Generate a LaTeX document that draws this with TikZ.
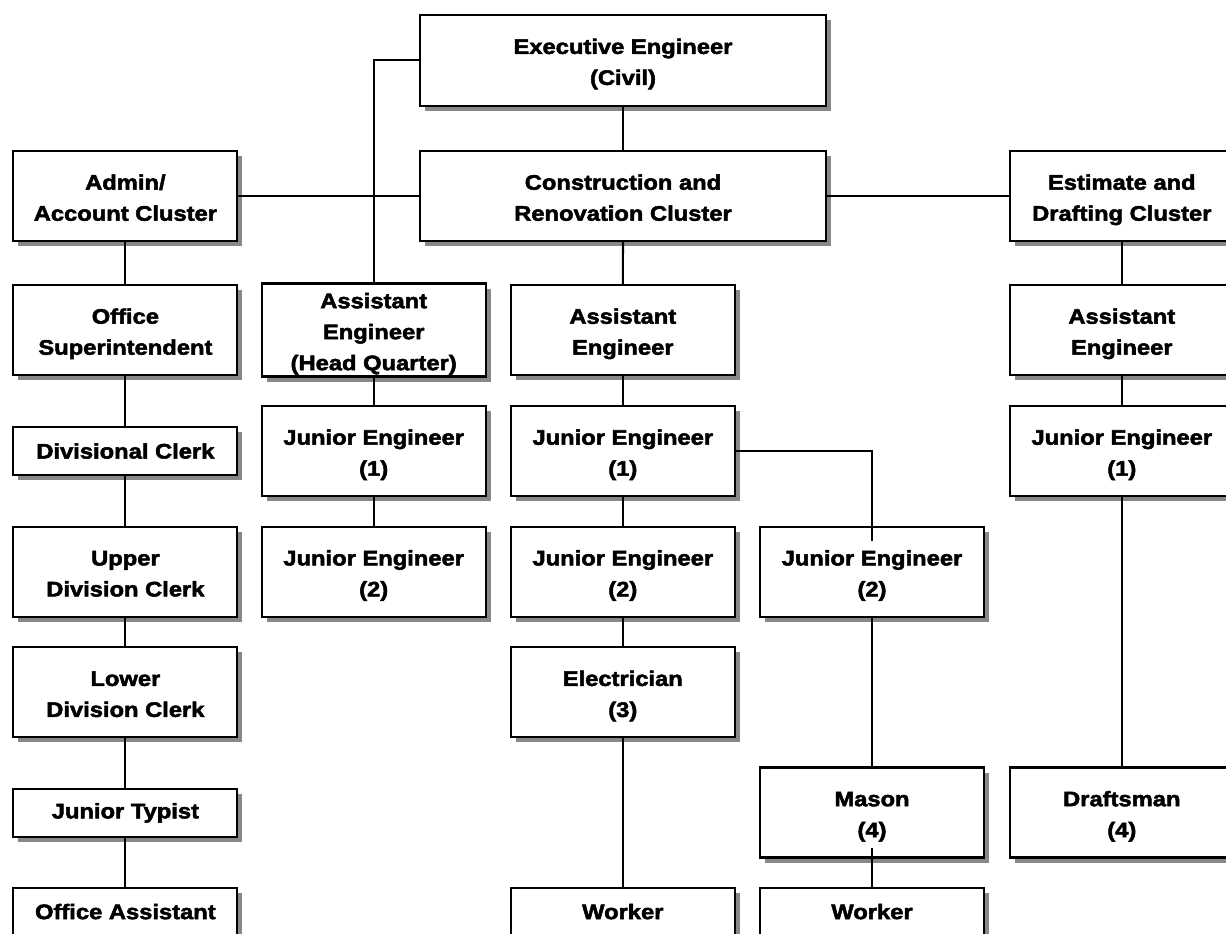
\documentclass[tikz,border=0pt]{standalone}
\usepackage{fontspec}
\newfontfamily\boxfont{Liberation Sans}[FakeStretch=1.13, FakeBold=2.4]
\usetikzlibrary{shadows,calc}
\definecolor{shadowgray}{RGB}{136,136,136}
\newcommand\mylines[1]{\raisebox{-3pt}[\height][\depth]{\begin{tabular}{@{}c@{}}#1\end{tabular}}}
\tikzset{
  box/.style={draw=black, line width=2.1pt, fill=white, minimum width=224pt,
    minimum height=#1, inner sep=0pt, align=center,
    font=\boxfont\bfseries\fontsize{21}{31}\selectfont,
    drop shadow={shadow xshift=5pt, shadow yshift=-5pt, fill=shadowgray, opacity=1}},
  box/.default=90pt,
  widebox/.style={minimum width=406pt},
  link/.style={line width=2.1pt, draw=black}
}
\begin{document}
\begin{tikzpicture}[x=1pt,y=1pt]
\useasboundingbox (0,0) rectangle (1226,-934);
\clip (0,0) rectangle (1226,-934);
\fill[white] (0,0) rectangle (1226,-934);
% top
\node[box=91pt, widebox] (exec) at (623,-60.2) {\mylines{Executive Engineer\\(Civil)}};
\node[box, widebox] (cons) at (623,-196) {\mylines{Construction and\\Renovation Cluster}};
\node[box] (admin) at (125.4,-196) {\mylines{Admin/\\Account Cluster}};
\node[box] (est) at (1121.8,-196) {\mylines{Estimate and\\Drafting Cluster}};
% row 3
\node[box] (office) at (125.4,-330) {\mylines{Office\\Superintendent}};
\node[box] (aehq) at (373.7,-330) {\mylines{Assistant\\Engineer\\(Head Quarter)}};
\node[box] (ae3) at (622.8,-330) {\mylines{Assistant\\Engineer}};
\node[box] (ae4) at (1121.8,-330) {\mylines{Assistant\\Engineer}};
% row 4
\node[box=48pt] (div) at (125.4,-451) {Divisional Clerk};
\node[box] (je1hq) at (373.7,-451) {\mylines{Junior Engineer\\(1)}};
\node[box] (je1c) at (622.8,-451) {\mylines{Junior Engineer\\(1)}};
\node[box] (je1d) at (1121.8,-451) {\mylines{Junior Engineer\\(1)}};
% row 5
\node[box] (udc) at (125.4,-571.7) {\mylines{Upper\\Division Clerk}};
\node[box] (je2hq) at (373.7,-571.7) {\mylines{Junior Engineer\\(2)}};
\node[box] (je2c) at (622.8,-571.7) {\mylines{Junior Engineer\\(2)}};
\node[box] (je2b) at (872,-571.7) {\mylines{Junior Engineer\\(2)}};
% row 6
\node[box] (ldc) at (125.4,-692.2) {\mylines{Lower\\Division Clerk}};
\node[box] (elec) at (622.8,-692.2) {\mylines{Electrician\\(3)}};
% row 7
\node[box=48pt] (typ) at (125.4,-812.9) {Junior Typist};
\node[box] (mason) at (872,-812.5) {\mylines{Mason\\(4)}};
\node[box] (draft) at (1121.8,-812.5) {\mylines{Draftsman\\(4)}};
% row 8
\node[box=48pt] (oa) at (125.4,-911.6) {Office Assistant};
\node[box=48pt] (w1) at (622.8,-911.6) {Worker};
\node[box=48pt] (w2) at (872,-911.6) {Worker};
% connectors
\draw[link] (exec.west) -| (aehq.north);
\draw[link] (exec.south) -- (cons.north);
\draw[link] (admin.east) -- (cons.west);
\draw[link] (cons.east) -- (est.west);
\draw[link] (admin.south) -- (office.north);
\draw[link] (office.south) -- (div.north);
\draw[link] (div.south) -- (udc.north);
\draw[link] (udc.south) -- (ldc.north);
\draw[link] (ldc.south) -- (typ.north);
\draw[link] (typ.south) -- (oa.north);
\draw[link] (aehq.south) -- (je1hq.north);
\draw[link] (je1hq.south) -- (je2hq.north);
\draw[link] (cons.south) -- (ae3.north);
\draw[link] (ae3.south) -- (je1c.north);
\draw[link] (je1c.south) -- (je2c.north);
\draw[link] (je2c.south) -- (elec.north);
\draw[link] (elec.south) -- (w1.north);
\draw[link] (je1c.east) -| ($(je2b.north)+(0,-15)$);
\draw[link] (je2b.south) -- (mason.north);
\draw[link] ($(mason.south)+(0,11)$) -- (w2.north);
\draw[link] (est.south) -- (ae4.north);
\draw[link] (ae4.south) -- (je1d.north);
\draw[link] (je1d.south) -- (draft.north);
\end{tikzpicture}
\end{document}
